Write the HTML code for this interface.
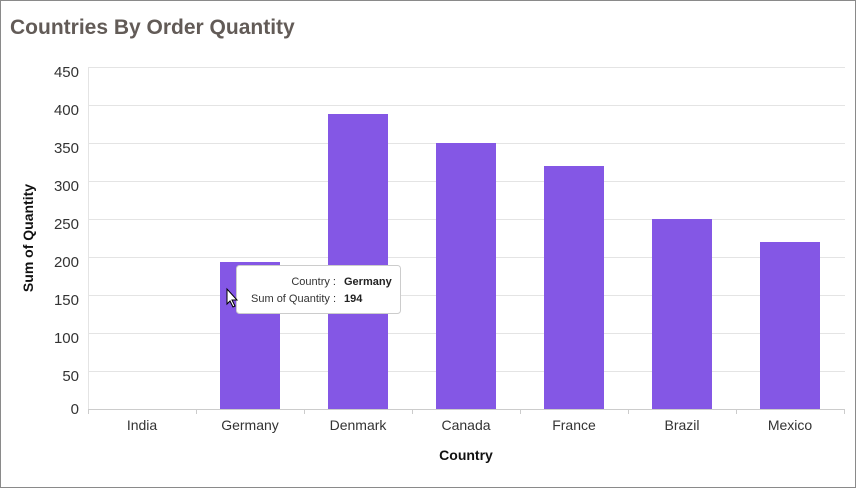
<!DOCTYPE html>
<html><head><style>
html,body{margin:0;padding:0;background:#fff;}
svg{display:block;font-family:"Liberation Sans",Arial,sans-serif;}
</style></head><body>
<svg width="856" height="488" viewBox="0 0 856 488">
<rect x="0.5" y="0.5" width="855" height="487" fill="#fff" stroke="#8a8a8a"/>
<text x="10" y="34" font-size="21" font-weight="bold" fill="#625b57">Countries By Order Quantity</text>
<g stroke="#e4e4e4" stroke-width="1">
<line x1="88" x2="845" y1="67.5" y2="67.5"/>
<line x1="88" x2="845" y1="105.5" y2="105.5"/>
<line x1="88" x2="845" y1="143.5" y2="143.5"/>
<line x1="88" x2="845" y1="181.5" y2="181.5"/>
<line x1="88" x2="845" y1="219.5" y2="219.5"/>
<line x1="88" x2="845" y1="257.5" y2="257.5"/>
<line x1="88" x2="845" y1="295.5" y2="295.5"/>
<line x1="88" x2="845" y1="333.5" y2="333.5"/>
<line x1="88" x2="845" y1="371.5" y2="371.5"/>
<line x1="88.5" x2="88.5" y1="67" y2="409"/>
</g>
<g stroke="#ccc"><line x1="88" x2="845" y1="409.5" y2="409.5"/>
<line x1="88.5" x2="88.5" y1="409" y2="414"/><line x1="196.5" x2="196.5" y1="409" y2="414"/><line x1="304.5" x2="304.5" y1="409" y2="414"/><line x1="412.5" x2="412.5" y1="409" y2="414"/><line x1="520.5" x2="520.5" y1="409" y2="414"/><line x1="628.5" x2="628.5" y1="409" y2="414"/><line x1="736.5" x2="736.5" y1="409" y2="414"/><line x1="844.5" x2="844.5" y1="409" y2="414"/></g>
<g font-size="15" fill="#333" text-anchor="end">
<text x="79" y="77">450</text><text x="79" y="115">400</text><text x="79" y="153">350</text><text x="79" y="191">300</text><text x="79" y="229">250</text><text x="79" y="267">200</text><text x="79" y="305">150</text><text x="79" y="343">100</text><text x="79" y="381">50</text><text x="79" y="414">0</text>
</g>
<g fill="#8457e5">
<rect x="220" y="262" width="60" height="147"/>
<rect x="328" y="114" width="60" height="295"/>
<rect x="436" y="143" width="60" height="266"/>
<rect x="544" y="166" width="60" height="243"/>
<rect x="652" y="219" width="60" height="190"/>
<rect x="760" y="242" width="60" height="167"/>
</g>
<g font-size="14" fill="#333" text-anchor="middle">
<text x="142" y="430">India</text><text x="250" y="430">Germany</text><text x="358" y="430">Denmark</text><text x="466" y="430">Canada</text><text x="574" y="430">France</text><text x="682" y="430">Brazil</text><text x="790" y="430">Mexico</text>
</g>
<text x="466" y="460" font-size="14" font-weight="bold" text-anchor="middle" fill="#111">Country</text>
<text transform="translate(33,238) rotate(-90)" font-size="14" font-weight="bold" text-anchor="middle" fill="#111">Sum of Quantity</text>
<rect x="236.5" y="265.5" width="164" height="48" rx="3" fill="#fff" stroke="#ccc"/>
<g font-size="11" fill="#333">
<text x="336" y="285" text-anchor="end">Country :</text><text x="336" y="302" text-anchor="end">Sum of Quantity :</text>
<text x="344" y="285" font-weight="bold" fill="#222">Germany</text><text x="344" y="302" font-weight="bold" fill="#222">194</text>
</g>
<path d="M227 289 L227 304 L230 301 L233 307 L235 306 L232 300 L237 300 Z" fill="#fff" stroke="#000" stroke-width="1"/>
</svg>
</body></html>
